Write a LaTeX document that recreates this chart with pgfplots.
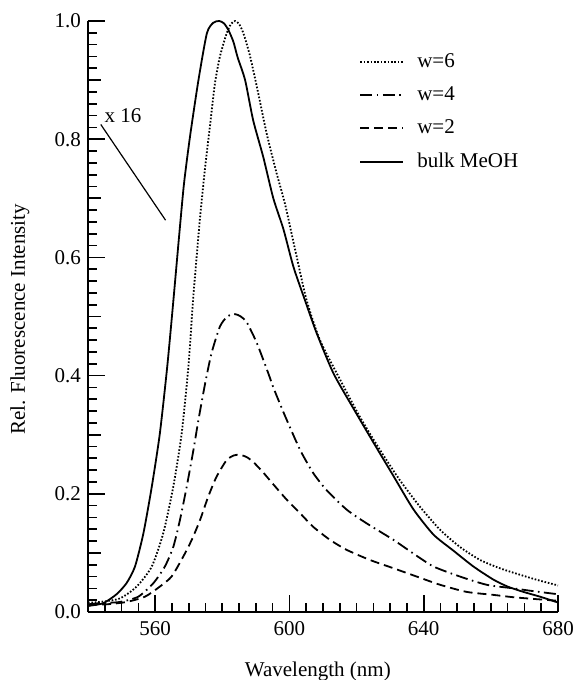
\documentclass[border=0pt]{standalone}
\usepackage{fontspec}
\setmainfont{Liberation Serif}
\usepackage{pgfplots}
\pgfplotsset{compat=1.18}

\pgfplotstableread{
x y
540 0.010
541 0.011
544.6 0.015
548.5 0.030
551.5 0.049
554.0 0.077
556.5 0.133
559.0 0.212
561.4 0.302
563.6 0.415
565.4 0.525
567.2 0.640
568.6 0.725
570.4 0.805
572.9 0.900
575.4 0.979
577.3 0.997
579.1 1.000
580.5 0.996
581.8 0.985
583.3 0.965
584.6 0.938
586.8 0.900
589.2 0.832
592.2 0.770
595.2 0.700
598.2 0.648
601.2 0.584
604.6 0.528
608.1 0.472
613.1 0.404
619.0 0.345
625.0 0.287
631.0 0.230
636.9 0.174
642.9 0.131
648.8 0.104
654.8 0.077
660.7 0.055
665.0 0.043
669.7 0.034
674.6 0.026
680 0.016
}\bulk

\pgfplotstableread{
x y
540 0.016
543.6 0.017
549.5 0.023
554.5 0.043
559.0 0.077
562.4 0.133
565.4 0.212
567.9 0.302
569.9 0.415
571.3 0.528
572.2 0.590
573.4 0.669
574.9 0.753
576.3 0.821
577.8 0.894
579.3 0.940
581.3 0.979
582.6 0.995
583.8 1.000
585.0 0.995
586.3 0.979
588.3 0.940
590.7 0.878
593.2 0.810
596.2 0.742
598.7 0.690
601.7 0.613
605.1 0.528
609.1 0.460
615.1 0.393
621.0 0.330
627.0 0.274
632.9 0.223
638.9 0.178
644.9 0.139
650.8 0.110
656.8 0.088
662.7 0.074
668.7 0.063
674.0 0.054
680 0.045
}\wsix

\pgfplotstableread{
x y
540 0.013
543.6 0.015
549.5 0.017
555.0 0.026
559.5 0.049
562.9 0.077
565.4 0.110
567.4 0.156
569.4 0.212
571.4 0.274
572.9 0.325
574.9 0.387
576.8 0.438
579.3 0.483
581.5 0.500
583.8 0.504
585.5 0.500
587.3 0.490
590.3 0.455
593.7 0.404
595.2 0.380
597.2 0.352
599.2 0.325
603.2 0.274
607.1 0.235
611.1 0.206
617.1 0.173
623.0 0.150
631.0 0.122
636.9 0.099
642.9 0.077
650.8 0.060
658.8 0.046
666.7 0.040
673 0.035
680 0.030
}\wfour

\pgfplotstableread{
x y
540 0.012
545.6 0.013
551.5 0.017
557.0 0.026
561.4 0.043
564.9 0.060
568.4 0.094
570.9 0.122
573.4 0.156
575.8 0.195
578.3 0.229
581.3 0.257
583.5 0.265
585.3 0.266
587.3 0.262
589.2 0.254
592.2 0.236
595.2 0.216
599.2 0.190
603.2 0.167
607.1 0.144
612.1 0.122
617.1 0.105
624.0 0.088
631.0 0.074
637.9 0.060
644.9 0.046
652.8 0.034
660.7 0.029
666.7 0.025
673 0.022
680 0.019
}\wtwo

\begin{document}
\begin{tikzpicture}
% page = 575 x 680 px, 1 px = 0.5pt, axis origin at px (88,612)
\useasboundingbox (-44pt,-34pt) rectangle (243.5pt,306pt);
\begin{axis}[
  scale only axis,
  width=235pt, height=295.5pt,
  xmin=540, xmax=680, ymin=0, ymax=1,
  axis x line*=bottom, axis y line*=left,
  axis line style={-, line width=1.1pt},
  tick align=inside,
  xtick={560,600,640,680},
  minor xtick={540,545,...,680},
  ytick={0,0.2,0.4,0.6,0.8,1.0},
  minor ytick={0,0.02,...,1.0},
  extra y ticks={0.1,0.3,0.5,0.7,0.9},
  extra y tick labels={},
  extra y tick style={major tick length=6.5pt},
  major tick length=8.5pt, minor tick length=4.5pt,
  every tick/.style={black, line width=0.85pt},
  yticklabel style={/pgf/number format/fixed, /pgf/number format/fixed zerofill, /pgf/number format/precision=1},
  xticklabel style={yshift=-1pt},
  /pgf/number format/assume math mode=true,
  tick label style={font=\rmfamily\fontsize{10.5}{12}\selectfont},
  label style={font=\rmfamily\fontsize{10.5}{12}\selectfont},
  xlabel={Wavelength (nm)},
  ylabel={Rel. Fluorescence Intensity},
  xlabel style={at={(axis description cs:0.489,0)}, anchor=base, yshift=-32pt},
  ylabel style={at={(axis description cs:-0.145,0.495)}, anchor=center},
  legend style={at={(0.564,0.956)}, anchor=north west, draw=none, fill=none,
    font=\rmfamily\fontsize{10.5}{12}\selectfont, row sep=6.2pt, column sep=5.5pt,
    nodes={inner sep=1pt}},
  legend cell align=left,
  legend image code/.code={\draw[#1] (0pt,0pt) -- (21.5pt,0pt);},
  every axis plot/.append style={smooth, tension=0.4},
]
\addplot[black, line width=0.9pt, line cap=butt, dash pattern=on 0.8pt off 0.9pt] table {\wsix};
\addlegendentry{w=6}
\addplot[black, line width=0.9pt, dash pattern=on 6pt off 2.2pt on 0.8pt off 2.2pt] table {\wfour};
\addlegendentry{w=4}
\addplot[black, line width=0.9pt, dash pattern=on 4.5pt off 2.5pt] table {\wtwo};
\addlegendentry{w=2}
\addplot[black, line width=0.9pt] table {\bulk};
\addlegendentry{bulk MeOH}
\draw[black, line width=0.6pt] (axis cs:543.8,0.825) -- (axis cs:563.1,0.663);
\node[anchor=base west, inner sep=0pt, font=\rmfamily\fontsize{10.5}{12}\selectfont] at (axis cs:544.8,0.829) {x 16};
\end{axis}
\end{tikzpicture}
\end{document}
